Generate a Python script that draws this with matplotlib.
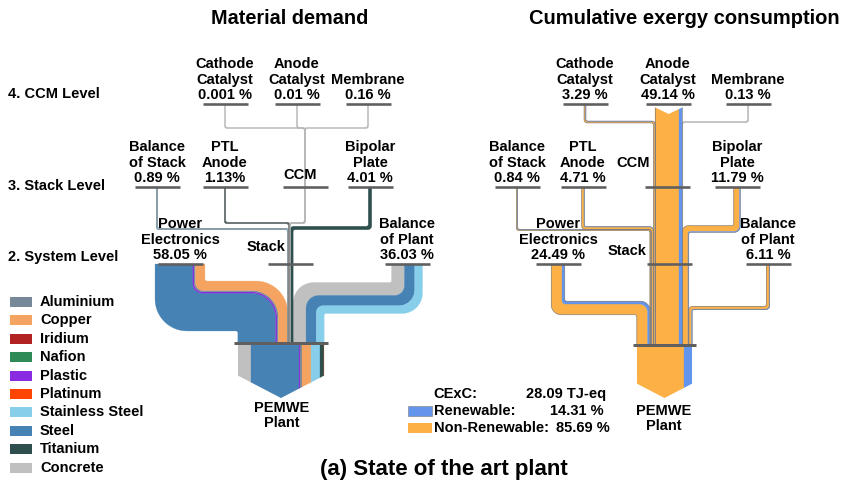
import numpy as np
import matplotlib
matplotlib.use("Agg")
import matplotlib.pyplot as plt
from matplotlib.patches import Polygon, Rectangle

plt.rcParams["font.family"] = ["Liberation Sans", "DejaVu Sans"]
plt.rcParams["font.weight"] = "bold"

# ---------------- data ----------------
materials = ["Aluminium", "Copper", "Iridium", "Nafion", "Plastic", "Platinum",
             "Stainless Steel", "Steel", "Titanium", "Concrete"]
material_colors = ["#778899", "#F4A460", "#B22222", "#2E8B57", "#8A2BE2", "#FF4500",
                   "#87CEEB", "#4682B4", "#2F4F4F", "#C0C0C0"]

# components: 0-2 CCM level, 3-5 stack level, 6-7 system level
components = ["Cathode\nCatalyst", "Anode\nCatalyst", "Membrane", "Balance\nof Stack",
              "PTL\nAnode", "Bipolar\nPlate", "Power\nElectronics", "Balance\nof Plant"]

# material demand (% of total)
md_share = [0.001, 0.01, 0.16, 0.89, 1.13, 4.01, 58.05, 36.03]
md_text = ["0.001 %", "0.01 %", "0.16 %", "0.89 %", "1.13%", "4.01 %", "58.05 %", "36.03 %"]
# split of every component into materials, left to right (estimated from band widths)
md_split = [
    [("Platinum", 0.001)],
    [("Iridium", 0.01)],
    [("Nafion", 0.16)],
    [("Stainless Steel", 0.89)],
    [("Titanium", 1.13)],
    [("Titanium", 4.01)],
    [("Steel", 44.05), ("Plastic", 1.5), ("Aluminium", 1.5), ("Copper", 11.0)],
    [("Concrete", 15.0), ("Steel", 12.0), ("Stainless Steel", 9.03)],
]
md_plant_order = ["Concrete", "Steel", "Plastic", "Aluminium", "Copper",
                  "Stainless Steel", "Titanium", "Nafion", "Iridium", "Platinum"]

# cumulative exergy consumption (% of total)
cexc_share = [3.29, 49.14, 0.13, 0.84, 4.71, 11.79, 24.49, 6.11]
cexc_renewable = [0.4, 5.5, 0.03, 0.1, 0.6, 1.5, 5.0, 1.18]   # estimated
cexc_total = 28.09
renewable_total = 14.31
nonrenewable_total = 85.69
ren_color = "#6495ED"
nonren_color = "#FDB045"

# ---------------- layout ----------------
WMIN = 1.3
PX = 72 / 100  # points per pixel
BAR_C = "#5f5f5f"
R_IN, K_R = 2.0, 0.6
FS = 10.5

lay_md = dict(scale=0.86, plant_x=281, ccm_x=305,
              x=[225, 297, 368, 157, 225, 370, 180, 407],
              y=[104, 104, 104, 187, 187, 187, 264, 264],
              turn=[128, 128, 128, 229, 223, 228, 306, 298], turn_ccm=223,
              y_plant=343, arrow=55,
              ccm_label=(300, 175), stack_label=(266, 247), plant_label=(282, 401))
lay_ce = dict(scale=0.55, plant_x=664.5, ccm_x=None,
              x=[585, 668, 748, 517, 583, 737, 558, 768],
              y=[104, 104, 104, 187, 187, 187, 264, 264],
              turn=[122, 122, 122, 230, 228, 229, 308, 308], turn_ccm=230,
              y_plant=345, arrow=53,
              ccm_label=(633, 163), stack_label=(627, 251), plant_label=(664, 404))


def unit(v):
    return v / np.hypot(v[0], v[1])


def slots(center, widths):
    left = center - sum(widths) / 2
    out = []
    for w in widths:
        out.append(left + w / 2)
        left += w
    return out


def clean(pts):
    pts = [list(p) for p in pts]
    for i in range(len(pts) - 1):
        (x1, y1), (x2, y2) = pts[i], pts[i + 1]
        if y1 == y2 and 0 < abs(x2 - x1) < 3:
            k = i
            while k >= 0 and pts[k][0] == x1:
                pts[k][0] = x2
                k -= 1
    out = []
    for p in pts:
        if out and abs(p[0] - out[-1][0]) < 1e-9 and abs(p[1] - out[-1][1]) < 1e-9:
            continue
        out.append(p)
    res = [out[0]]
    for i in range(1, len(out) - 1):
        a, b, c = res[-1], out[i], out[i + 1]
        if (abs(a[0] - b[0]) < 1e-9 and abs(b[0] - c[0]) < 1e-9) or \
           (abs(a[1] - b[1]) < 1e-9 and abs(b[1] - c[1]) < 1e-9):
            continue
        res.append(b)
    res.append(out[-1])
    return np.array(res, float)


def rounded(pts, radii, n=24):
    P = [pts[0]]
    for i in range(1, len(pts) - 1):
        a, b, c = pts[i - 1], pts[i], pts[i + 1]
        d1, d2 = unit(b - a), unit(c - b)
        l1, l2 = np.hypot(*(b - a)), np.hypot(*(c - b))
        rr = min(radii[i - 1], l1 if i == 1 else l1 / 2, l2 if i == len(pts) - 2 else l2 / 2)
        C = b - d1 * rr + d2 * rr
        for th in np.linspace(0, np.pi / 2, n):
            P.append(C + (-d2 * np.cos(th) + d1 * np.sin(th)) * rr)
    P.append(pts[-1])
    return np.array(P)


def boundary(pts, d, w):
    segs = [unit(pts[i + 1] - pts[i]) for i in range(len(pts) - 1)]
    nrm = [np.array([-s[1], s[0]]) for s in segs]
    off = [pts[0] + nrm[0] * d]
    radii = []
    for i in range(1, len(pts) - 1):
        off.append(pts[i] + (nrm[i - 1] + nrm[i]) * d)
        cross = segs[i - 1][0] * segs[i][1] - segs[i - 1][1] * segs[i][0]
        radii.append(R_IN + K_R * (w / 2 - cross * d))
    off.append(pts[-1] + nrm[-1] * d)
    return rounded(off, radii)


def band(ax, pts, parts, width, outline):
    total = sum(v for _, v in parts)
    tiny = total < 0.2
    w = max(width, WMIN)
    pts = clean(pts)
    offs = [w / 2]
    for _, v in parts:
        offs.append(offs[-1] - w * v / total)
    bounds = [boundary(pts, d, w) for d in offs]
    for k, (color, v) in enumerate(parts):
        a, b = bounds[k], bounds[k + 1]
        c = "#b8b8b8" if tiny else color
        ax.add_patch(Polygon(np.vstack([a, b[::-1]]), closed=True, fc=c, ec=c,
                             lw=0.2, zorder=2))
    if outline and not tiny:
        for e in (bounds[0], bounds[-1]):
            ax.plot(e[:, 0], e[:, 1], color="#7a7a7a", lw=0.45, zorder=3)
    return (bounds[0][0] + bounds[-1][0]) / 2


def hbar(ax, x, y, half=22.5, lw=2.6):
    ax.plot([x - half, x + half], [y, y], color=BAR_C, lw=lw * PX,
            solid_capstyle="butt", zorder=5)


def draw_panel(ax, shares, texts, splits, colors, plant_parts, lay, outline_all, notch=None):
    s = lay["scale"]
    raw = [v * s for v in shares]
    ccm_w = raw[0:3]
    stack_w = [raw[3], raw[4], sum(ccm_w), raw[5]]
    plant_w = [raw[6], sum(stack_w), raw[7]]
    plant_x = slots(lay["plant_x"], plant_w)
    stack_x = slots(plant_x[1], stack_w)
    ccm_c = lay["ccm_x"] if lay["ccm_x"] is not None else stack_x[2]
    ccm_x = slots(ccm_c, ccm_w)
    ccm_in_stack = slots(stack_x[2], ccm_w)
    yp = lay["y_plant"]
    X, Y, TU = lay["x"], lay["y"], lay["turn"]

    paths = {}
    for j in range(3):
        paths[j] = [(X[j], Y[j]), (X[j], TU[j]), (ccm_x[j], TU[j]),
                    (ccm_x[j], lay["turn_ccm"]), (ccm_in_stack[j], lay["turn_ccm"]),
                    (ccm_in_stack[j], yp)]
    for j, i in ((0, 3), (1, 4), (3, 5)):
        paths[i] = [(X[i], Y[i]), (X[i], TU[i]), (stack_x[j], TU[i]), (stack_x[j], yp)]
    for j, i in ((0, 6), (2, 7)):
        paths[i] = [(X[i], Y[i]), (X[i], TU[i]), (plant_x[j], TU[i]), (plant_x[j], yp)]

    for i in (6, 7, 5, 4, 3, 2, 1, 0):
        parts = [(colors[m], v) for m, v in splits[i]]
        P0 = band(ax, paths[i], parts, raw[i], outline_all or raw[i] < 3)
        if notch == i:
            w = raw[i]
            xc, y0 = P0
            ax.add_patch(Polygon([(xc - w / 2 - 1, y0 - 1), (xc + w / 2 + 1, y0 - 1),
                                  (xc + w / 2 + 1, y0 + 3), (xc, y0 + 10),
                                  (xc - w / 2 - 1, y0 + 3)],
                                 closed=True, fc="white", ec="none", zorder=4))

    # outflow arrow of the plant
    total = sum(plant_w)
    xl, xr = lay["plant_x"] - total / 2, lay["plant_x"] + total / 2
    L = lay["arrow"]
    tip = 0.52 * total / 2
    arrow = Polygon([(xl, yp), (xr, yp), (xr, yp + L - tip), ((xl + xr) / 2, yp + L),
                     (xl, yp + L - tip)], closed=True, fc="none", ec="none")
    ax.add_patch(arrow)
    agg_total = sum(v for _, v in plant_parts)
    x = xl
    for c, v in plant_parts:
        w = total * v / agg_total
        rect = Rectangle((x, yp), w, L, fc=c, ec=c, lw=0.2, zorder=2)
        ax.add_patch(rect)
        rect.set_clip_path(arrow)
        x += w

    # node bars and labels
    for i in range(8):
        hbar(ax, X[i], Y[i])
        ax.text(X[i], Y[i] - 2, components[i] + "\n" + texts[i], ha="center",
                va="bottom", fontsize=FS, linespacing=1.12, zorder=6)
    hbar(ax, ccm_c, Y[3])
    hbar(ax, plant_x[1], Y[6])
    hbar(ax, lay["plant_x"], yp, half=total / 2 + 4, lw=3)
    ax.text(*lay["ccm_label"], "CCM", ha="center", va="center", fontsize=FS)
    ax.text(*lay["stack_label"], "Stack", ha="center", va="center", fontsize=FS)
    ax.text(*lay["plant_label"], "PEMWE\nPlant", ha="center", va="top", fontsize=FS,
            linespacing=1.12)


fig = plt.figure(figsize=(8.47, 4.84), dpi=100)
ax = fig.add_axes([0, 0, 1, 1])
ax.set_xlim(0, 847)
ax.set_ylim(484, 0)
ax.axis("off")

mat_col = dict(zip(materials, material_colors))
md_totals = {m: 0.0 for m in materials}
for sp in md_split:
    for m, v in sp:
        md_totals[m] += v
draw_panel(ax, md_share, md_text, md_split, mat_col,
           [(mat_col[m], md_totals[m]) for m in md_plant_order], lay_md, False)

ce_split = [[("Non", v - r), ("Ren", r)] for v, r in zip(cexc_share, cexc_renewable)]
ce_text = [f"{v:.2f} %" for v in cexc_share]
draw_panel(ax, cexc_share, ce_text, ce_split, {"Non": nonren_color, "Ren": ren_color},
           [(nonren_color, nonrenewable_total), (ren_color, renewable_total)],
           lay_ce, True, notch=1)

# titles and level labels
ax.text(290, 18, "Material demand", ha="center", va="center", fontsize=14.3)
ax.text(684, 18, "Cumulative exergy consumption", ha="center", va="center", fontsize=14.5)
ax.text(444, 470, "(a) State of the art plant", ha="center", va="center", fontsize=16)
for y, t in ((94, "4. CCM Level"), (186, "3. Stack Level"), (257, "2. System Level")):
    ax.text(8, y, t, ha="left", va="center", fontsize=FS)

# material legend
for i, (m, c) in enumerate(zip(materials, material_colors)):
    y = 302 + i * 18.4
    ax.add_patch(Rectangle((10, y - 5), 22, 10, fc=c, ec="none"))
    ax.text(40, y, m, ha="left", va="center", fontsize=FS)

# CExC legend
ax.text(433, 394, "CExC:", ha="left", va="center", fontsize=FS)
ax.text(606, 394, f"{cexc_total:.2f} TJ-eq", ha="right", va="center", fontsize=FS)
ax.add_patch(Rectangle((408, 406), 24, 10, fc=ren_color, ec="#7a7a7a", lw=0.4))
ax.text(434, 411, "Renewable:", ha="left", va="center", fontsize=FS)
ax.text(604, 411, f"{renewable_total:.2f} %", ha="right", va="center", fontsize=FS)
ax.add_patch(Rectangle((408, 423), 24, 10, fc=nonren_color, ec="none"))
ax.text(434, 428, "Non-Renewable:", ha="left", va="center", fontsize=FS)
ax.text(610, 428, f"{nonrenewable_total:.2f} %", ha="right", va="center", fontsize=FS)

fig.savefig("out.png", dpi=100)
